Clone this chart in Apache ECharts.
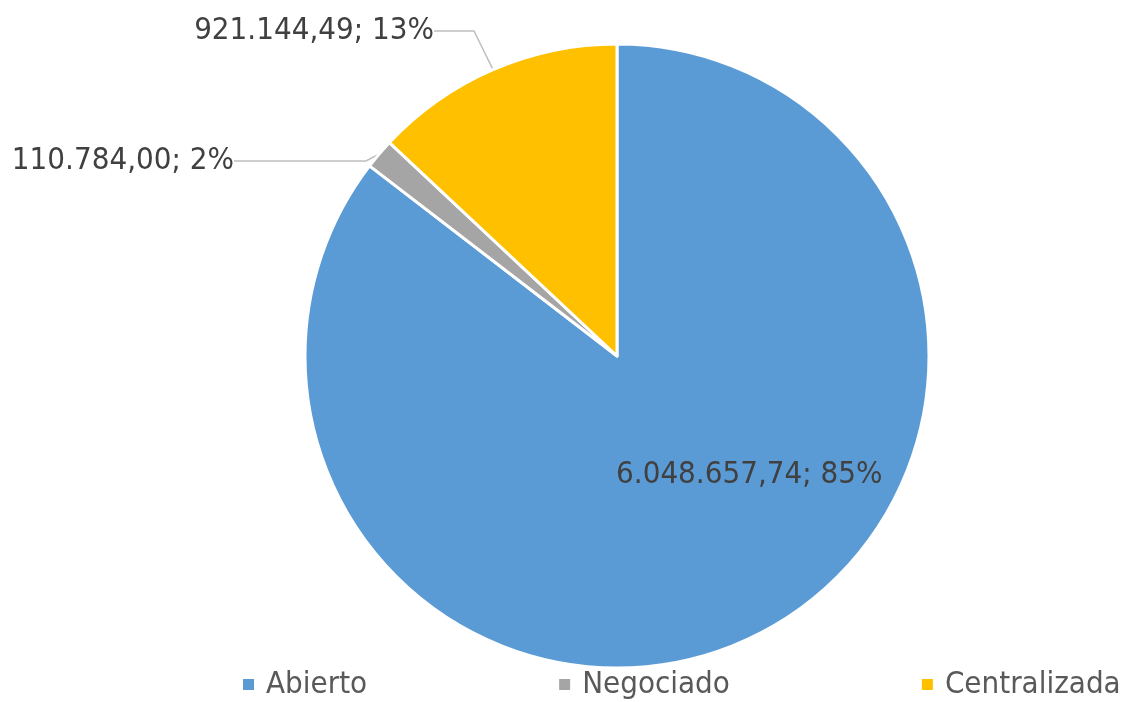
<!DOCTYPE html>
<html>
<head>
<meta charset="utf-8">
<script src="https://cdn.jsdelivr.net/npm/echarts@6/dist/echarts.min.js"></script>
<style>
html, body { margin: 0; padding: 0; background: #fff; }
#chart { width: 1126px; height: 702px; }
</style>
</head>
<body>
<div id="chart"></div>
<script>
var categories = ['Abierto', 'Negociado', 'Centralizada'];
var values = [6048657.74, 110784.00, 921144.49];
var colors = ['#5B9BD5', '#A5A5A5', '#FFC000'];

var FONT = '"DejaVu Sans Condensed", "Liberation Sans Narrow", "Noto Sans", sans-serif';

function fmtNum(v) {
	var parts = v.toFixed(2).split('.');
	var intPart = parts[0].replace(/\B(?=(\d{3})+(?!\d))/g, '.');
	return intPart + ',' + parts[1];
}

var chart = echarts.init(document.getElementById('chart'));

var data = categories.map(function (name, i) {
	var item = { name: name, value: values[i], itemStyle: { color: colors[i] } };
	if (i === 0) {
		item.label = { position: 'inside' };
	}
	if (i === 1) {
		item.labelLine = { length: 6, length2: 132 };
	}
	if (i === 2) {
		item.labelLine = { length: 33, length2: 40 };
	}
	return item;
});

var option = {
	animation: false,
	legend: {
		top: 669,
		left: 241,
		right: 0,
		padding: 0,
		icon: 'rect',
		itemWidth: 13,
		itemHeight: 13,
		itemGap: 190,
		data: categories,
		textStyle: {
			color: '#595959',
			fontSize: 31,
			fontFamily: FONT,
			padding: [0, 0, 0, 6]
		}
	},
	series: [{
		type: 'pie',
		center: [617, 356],
		radius: 312,
		startAngle: 90,
		clockwise: true,
		avoidLabelOverlap: false,
		itemStyle: {
			borderColor: '#fff',
			borderWidth: 3
		},
		label: {
			show: true,
			position: 'outside',
			color: '#404040',
			fontSize: 31,
			fontFamily: FONT,
			formatter: function (p) {
				return fmtNum(p.value) + '; ' + Math.round(p.percent) + '%';
			}
		},
		labelLine: {
			show: true,
			lineStyle: { color: '#BFBFBF', width: 1.5 }
		},
		labelLayout: function (params) {
			if (params.dataIndex === 0) {
				return { dx: 62, dy: -24 };
			}
			if (params.dataIndex === 1) {
				return { x: 234, y: 161, align: 'right', verticalAlign: 'middle' };
			}
			if (params.dataIndex === 2) {
				return { x: 434, y: 31, align: 'right', verticalAlign: 'middle' };
			}
			return {};
		},
		data: data
	}]
};

chart.setOption(option);
</script>
</body>
</html>
